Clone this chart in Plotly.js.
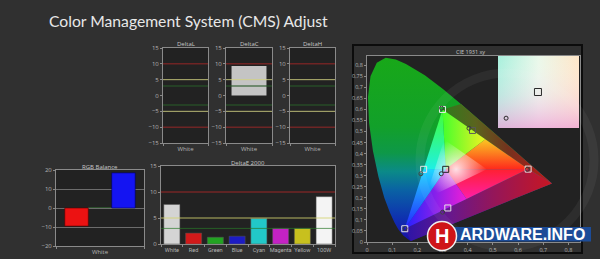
<!DOCTYPE html>
<html><head><meta charset="utf-8">
<script src="https://cdn.plot.ly/plotly-3.0.1.min.js"></script>
<style>html,body{margin:0;padding:0;background:#303030;}#chart{width:600px;height:259px;}</style>
</head><body><div id="chart"></div>
<script>
// ---------- data ----------
const deltaCategory = ['White'];
const deltaLValues = [0];
const deltaCValues = [9.3];
const deltaHValues = [0];

const rgbCategory = ['White'];
const rgbRed = [-9.5];
const rgbGreen = [0.4];
const rgbBlue = [18.5];

const de2000Categories = ['White','Red','Green','Blue','Cyan','Magenta','Yellow','100W'];
const de2000Values = [7.6, 2.1, 1.3, 1.5, 4.9, 3.0, 3.0, 9.1];
const de2000Colors = ['#d4d4d4','#d21a1a','#22a322','#1c1cc4','#22c8c8','#c422c4','#c8c01e','#f4f4f4'];

const thresholdRed = 10, thresholdYellow = 5, thresholdGreen = 3;

// CIE 1931 spectral locus (380..700 nm)
const locusX = [0.1741,0.1714,0.1644,0.1566,0.1440,0.1241,0.1096,0.0913,0.0687,0.0454,0.0235,0.0082,0.0039,0.0139,0.0389,0.0743,0.1142,0.1547,0.2296,0.3016,0.3731,0.4441,0.5125,0.5752,0.6270,0.6658,0.6915,0.7190,0.7347];
const locusY = [0.0050,0.0051,0.0109,0.0177,0.0297,0.0578,0.0868,0.1327,0.2007,0.2950,0.4127,0.5384,0.6548,0.7502,0.8120,0.8338,0.8262,0.8059,0.7543,0.6923,0.6245,0.5547,0.4866,0.4242,0.3725,0.3340,0.3083,0.2809,0.2653];

// display gamut primaries R, G, B
const gamutX = [0.64, 0.30, 0.15];
const gamutY = [0.33, 0.60, 0.06];
const whitePoint = [0.3127, 0.329];

const targetNames = ['Red','Yellow','Green','Cyan','Blue','Magenta','White'];
const targetX = [0.640, 0.419, 0.300, 0.225, 0.150, 0.321, 0.3127];
const targetY = [0.330, 0.505, 0.600, 0.329, 0.060, 0.154, 0.329];
const measuredX = [0.637, 0.405, 0.296, 0.214, 0.151, 0.300, 0.295];
const measuredY = [0.329, 0.515, 0.606, 0.309, 0.061, 0.135, 0.309];

const insetRangeX = [0.2905, 0.3355];
const insetRangeY = [0.3015, 0.3565];

// ---------- helpers ----------
const W = 600, H = 259;
const dx = (a,b)=>[a/W, b/W];
const dy = (t,b)=>[1-b/H, 1-t/H];
const FONT = 'Open Sans';
const tickFont = {family: FONT, size: 6, color: '#b4b4b4'};
function ax(extra){
  return Object.assign({showline:true, mirror:true, linecolor:'#8a8a8a', linewidth:1,
    zeroline:false, showgrid:false, ticks:'outside', ticklen:2, tickcolor:'#8a8a8a',
    tickfont:tickFont, tickangle:0, fixedrange:true}, extra);
}

const traces = [];
// Delta L / C / H
[[deltaLValues,'x','y'],[deltaCValues,'x2','y2'],[deltaHValues,'x3','y3']].forEach(([v,xa,ya])=>{
  traces.push({type:'bar', x:deltaCategory, y:v, xaxis:xa, yaxis:ya, width:0.76,
    marker:{color:'#c4c4c4', line:{width:0}}});
});
// RGB balance
traces.push({type:'bar', x:rgbCategory, y:rgbRed, xaxis:'x4', yaxis:'y4', marker:{color:'#ec1212', line:{color:'#5a0000',width:0.6}}});
traces.push({type:'bar', x:rgbCategory, y:rgbGreen, xaxis:'x4', yaxis:'y4', marker:{color:'#2f5f2f', line:{width:0}}});
traces.push({type:'bar', x:rgbCategory, y:rgbBlue, xaxis:'x4', yaxis:'y4', marker:{color:'#1414f2', line:{color:'#00005a',width:0.6}}});
// DeltaE 2000
traces.push({type:'bar', x:de2000Categories, y:de2000Values, xaxis:'x5', yaxis:'y5', width:0.74,
  marker:{color:de2000Colors, line:{color:'#555', width:0.5}}});

// CIE diagram
const cie = {xaxis:'x6', yaxis:'y6', mode:'none', fill:'toself', hoverinfo:'skip', showlegend:false};
traces.push(Object.assign({}, cie, {x:locusX.concat([locusX[0]]), y:locusY.concat([locusY[0]]),
  fillgradient:{type:'vertical', start:0, stop:0.84,
    colorscale:[[0,'#1a0ea6'],[0.12,'#0f2eb0'],[0.28,'#0a62a4'],[0.38,'#0b8a88'],[0.48,'#0e9848'],[0.62,'#12a02a'],[1,'#18a818']]}}));
const upX = [gamutX[1]].concat(locusX.slice(20), [gamutX[0]]);
const upY = [gamutY[1]].concat(locusY.slice(20), [gamutY[0]]);
traces.push(Object.assign({}, cie, {x:upX, y:upY,
  fillgradient:{type:'horizontal', start:0.30, stop:0.735,
    colorscale:[[0,'#2f7a1c'],[0.3,'#5a641e'],[0.6,'#74321e'],[1,'#c41616']]}}));
const loX = [gamutX[0], locusX[locusX.length-1], locusX[0], gamutX[2]];
const loY = [gamutY[0], locusY[locusY.length-1], locusY[0], gamutY[2]];
traces.push(Object.assign({}, cie, {x:loX, y:loY,
  fillgradient:{type:'horizontal', start:0.15, stop:0.735,
    colorscale:[[0,'#2a14a8'],[0.3,'#66188e'],[0.6,'#94165a'],[1,'#c81622']]}}));

// gamut triangle split around white point
const Rp=[gamutX[0],gamutY[0]], Gp=[gamutX[1],gamutY[1]], Bp=[gamutX[2],gamutY[2]], Wp=whitePoint;
const mid=(a,b)=>[(a[0]+b[0])/2,(a[1]+b[1])/2];
const Yp=mid(Rp,Gp), Mp=mid(Rp,Bp), Cp=mid(Bp,Gp);
function tri(pts, type, start, stop, cs){
  traces.push(Object.assign({}, cie, {x:pts.map(p=>p[0]).concat([pts[0][0]]), y:pts.map(p=>p[1]).concat([pts[0][1]]),
    fillgradient:{type:type, start:start, stop:stop, colorscale:cs}}));
}
tri([Wp,Gp,Yp],'horizontal',Gp[0],Yp[0],[[0,'#44ff2c'],[1,'#eef222']]);
tri([Wp,Yp,Rp],'vertical',Rp[1],Yp[1],[[0,'#ff2a1c'],[1,'#fac822']]);
tri([Wp,Rp,Mp],'vertical',Mp[1],Rp[1],[[0,'#ff1ea8'],[1,'#ff2030']]);
tri([Wp,Mp,Bp],'horizontal',Bp[0],Mp[0],[[0,'#2222ff'],[1,'#ee1ed6']]);
tri([Wp,Bp,Cp],'vertical',Bp[1],Cp[1],[[0,'#2424ff'],[1,'#1ed8ff']]);
tri([Wp,Cp,Gp],'vertical',Cp[1],Gp[1],[[0,'#1ef0e4'],[1,'#44ff30']]);
// white glow
const sh = p=>[Wp[0]+(p[0]-Wp[0])*0.5, Wp[1]+(p[1]-Wp[1])*0.5];
const glow=[Rp,Gp,Bp].map(sh);
traces.push(Object.assign({}, cie, {x:glow.map(p=>p[0]).concat([glow[0][0]]), y:glow.map(p=>p[1]).concat([glow[0][1]]),
  fillgradient:{type:'radial', colorscale:[[0,'rgba(255,245,250,0.9)'],[0.5,'rgba(255,240,250,0.45)'],[1,'rgba(255,255,255,0)']]}}));

traces.push({type:'scatter', mode:'markers', x:targetX, y:targetY, xaxis:'x6', yaxis:'y6', hoverinfo:'skip',
  marker:{symbol:'square-open', size:6, color:['#e6e6e6','#5a5a5a','#e6e6e6','#e6e6e6','#e6e6e6','#e6e6e6','#222222'], line:{width:1}}});
traces.push({type:'scatter', mode:'markers', x:measuredX, y:measuredY, xaxis:'x6', yaxis:'y6', hoverinfo:'skip',
  marker:{symbol:'circle-open', size:4, color:'#3a3a3a', line:{width:1}}});

// inset
const rx=[insetRangeX[0],insetRangeX[1],insetRangeX[1],insetRangeX[0],insetRangeX[0]];
const ry=[insetRangeY[0],insetRangeY[0],insetRangeY[1],insetRangeY[1],insetRangeY[0]];
traces.push({type:'scatter', mode:'none', fill:'toself', x:rx, y:ry, xaxis:'x7', yaxis:'y7', hoverinfo:'skip',
  fillgradient:{type:'horizontal', start:insetRangeX[0], stop:insetRangeX[1], colorscale:[[0,'#a8f0dc'],[0.5,'#eaf8ea'],[1,'#ffe6c8']]}});
traces.push({type:'scatter', mode:'none', fill:'toself', x:rx, y:ry, xaxis:'x7', yaxis:'y7', hoverinfo:'skip',
  fillgradient:{type:'vertical', start:insetRangeY[0], stop:insetRangeY[1], colorscale:[[0,'rgba(238,160,215,0.75)'],[0.45,'rgba(245,205,235,0.3)'],[1,'rgba(255,255,255,0)']]}});
traces.push({type:'scatter', mode:'markers', x:[targetX[6]], y:[targetY[6]], xaxis:'x7', yaxis:'y7', hoverinfo:'skip',
  marker:{symbol:'square-open', size:7, color:'#2a2a2a', line:{width:1}}});
traces.push({type:'scatter', mode:'markers', x:[measuredX[6]], y:[measuredY[6]], xaxis:'x7', yaxis:'y7', hoverinfo:'skip',
  marker:{symbol:'circle-open', size:4, color:'#2a2a2a', line:{width:1}}});

// ---------- layout ----------
const deltaY = {range:[-15,15], dtick:5};
const layout = {
  width:W, height:H, margin:{l:0,r:0,t:0,b:0},
  paper_bgcolor:'#303030', plot_bgcolor:'#222222',
  separators:',.', showlegend:false, hovermode:false,
  barmode:'group', bargap:0.2, bargroupgap:0,
  xaxis: ax({domain:dx(163,208), anchor:'y', type:'category', range:[-0.5,0.5], tickson:'boundaries'}),
  yaxis: ax(Object.assign({domain:dy(48,143), anchor:'x'}, deltaY)),
  xaxis2: ax({domain:dx(226,272), anchor:'y2', type:'category', range:[-0.5,0.5], tickson:'boundaries'}),
  yaxis2: ax(Object.assign({domain:dy(48,143), anchor:'x2'}, deltaY)),
  xaxis3: ax({domain:dx(290,335), anchor:'y3', type:'category', range:[-0.5,0.5], tickson:'boundaries'}),
  yaxis3: ax(Object.assign({domain:dy(48,143), anchor:'x3'}, deltaY)),
  xaxis4: ax({domain:dx(56,144), anchor:'y4', type:'category', range:[-0.5,0.5], tickson:'boundaries'}),
  yaxis4: ax({domain:dy(170,246), anchor:'x4', range:[-20,20], dtick:10, showgrid:true, gridcolor:'#6c6c6c', gridwidth:1}),
  xaxis5: ax({domain:dx(161,335), anchor:'y5', type:'category', range:[-0.5,7.5], tickson:'boundaries', tickfont:{family:'Roboto', size:5.6, color:'#b4b4b4'}}),
  yaxis5: ax({domain:dy(166,244), anchor:'x5', range:[0,15], dtick:5}),
  xaxis6: ax({domain:dx(367,580), anchor:'y6', range:[0,0.846], dtick:0.1, tickfont:{family:FONT,size:5.5,color:'#b4b4b4'}}),
  yaxis6: ax({domain:dy(56,242), anchor:'x6', range:[0,0.842], dtick:0.05, tickfont:{family:FONT,size:5.5,color:'#b4b4b4'}}),
  xaxis7: {domain:dx(498,579), anchor:'y7', range:insetRangeX, visible:false, fixedrange:true},
  yaxis7: {domain:dy(56,128), anchor:'x7', range:insetRangeY, visible:false, fixedrange:true},
  shapes: [], annotations: []
};

// threshold lines
function hline(xa, ya, v, color, width){
  layout.shapes.push({type:'line', xref:xa+' domain', yref:ya, x0:0, x1:1, y0:v, y1:v, layer:'above', line:{color:color, width:width}});
}
[['x','y'],['x2','y2'],['x3','y3']].forEach(([xa,ya])=>{
  [1,-1].forEach(s=>{
    hline(xa,ya,s*thresholdRed,'rgba(170,40,40,0.85)',1);
    hline(xa,ya,s*thresholdYellow,'rgba(210,210,130,0.85)',1);
    hline(xa,ya,s*thresholdGreen,'rgba(40,90,40,0.55)',2);
  });
});
hline('x5','y5',thresholdRed,'rgba(170,40,40,0.9)',1);
hline('x5','y5',thresholdYellow,'rgba(210,210,110,0.85)',1);
hline('x5','y5',thresholdGreen,'rgba(40,120,40,0.7)',1);

// CIE panel frame
layout.shapes.push({type:'rect', xref:'paper', yref:'paper', x0:353/W, x1:582/W, y0:1-253/H, y1:1-45/H, line:{color:'#0c0c0c', width:2}, layer:'below'});
// faint watermark ring
layout.shapes.push({type:'circle', xref:'paper', yref:'paper', x0:420/W, x1:594/W, y0:1-247/H, y1:1-73/H, line:{color:'rgba(255,255,255,0.05)', width:9}, layer:'above'});
// logo
layout.shapes.push({type:'rect', xref:'paper', yref:'paper', x0:432/W, x1:591/W, y0:1-241.5/H, y1:1-227/H, fillcolor:'#1c4c98', line:{width:0}, layer:'above'});
layout.shapes.push({type:'circle', xref:'paper', yref:'paper', x0:427.5/W, x1:456.5/W, y0:1-250.5/H, y1:1-221.5/H, fillcolor:'#cf1419', line:{color:'#f0f0f0', width:1.5}, layer:'above'});

function note(text, x, y, size, opts){
  layout.annotations.push(Object.assign({text:text, xref:'paper', yref:'paper', x:x/W, y:1-y/H, showarrow:false,
    font:{family:FONT, size:size, color:'#c8c8c8'}, xanchor:'center', yanchor:'middle'}, opts||{}));
}
note('Color Management System (CMS) Adjust', 47, 21, 15.7, {xanchor:'left', font:{family:'Lato', size:15.7, color:'#e8e8e8'}});
note('DeltaL', 185.5, 44, 6);
note('DeltaC', 249, 44, 6);
note('DeltaH', 312.5, 44, 6);
note('RGB Balance', 100, 166.5, 6);
note('DeltaE 2000', 248, 162.5, 6);
note('CIE 1931 xy', 470, 52, 5.5);
note('<b>H</b>', 442, 236, 20, {borderpad:0, font:{family:'Liberation Sans', size:20, color:'#ffffff'}});
note('<b>ARDWARE.INFO</b>', 459, 234.5, 16, {xanchor:'left', borderpad:0, font:{family:'Liberation Sans', size:16, color:'#ffffff'}});

Plotly.newPlot('chart', traces, layout, {staticPlot:true, displayModeBar:false});
</script></body></html>
